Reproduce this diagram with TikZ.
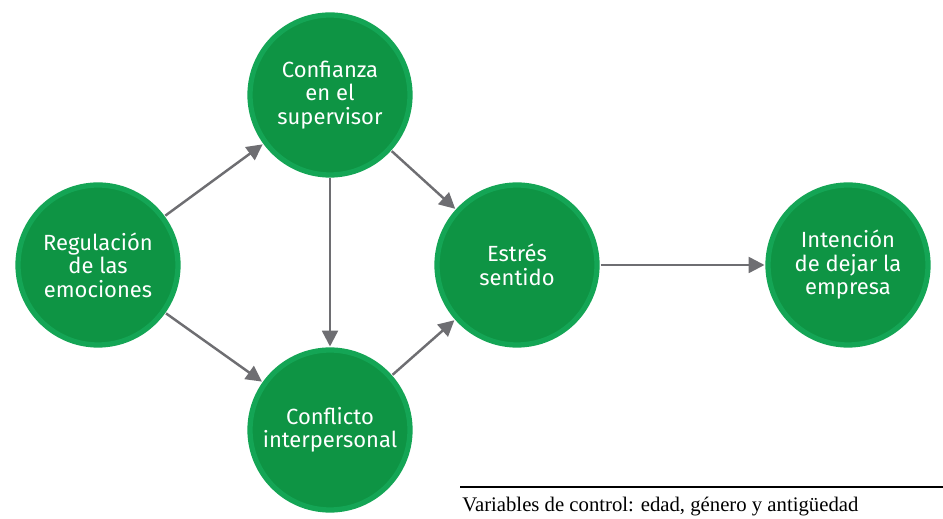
\documentclass[tikz,border=0pt]{standalone}
\usepackage{fontspec}
\setmainfont{Liberation Serif}
\newfontfamily\labelfont{Fira Sans}
\usetikzlibrary{arrows.meta}

\definecolor{blobgreen}{RGB}{14,148,68}
\definecolor{blobedge}{RGB}{20,165,85}
\definecolor{arrowgray}{RGB}{110,110,114}

\tikzset{
  factor/.style={circle, fill=blobgreen, draw=blobedge, line width=3pt,
    minimum size=3.2cm, inner sep=0pt, outer sep=2pt, text=white,
    align=center, font=\labelfont\fontsize{12.5}{13.4}\selectfont},
  link/.style={-{Triangle[length=9pt,width=9pt]}, arrowgray, line width=1.4pt},
}

\begin{document}
\begin{tikzpicture}[x=0.02cm, y=-0.02cm]
\useasboundingbox (0,0) rectangle (943,519);

\node (Reg) [factor] at (98,265) {Regulación\\de las\\emociones};
\node (Conf) [factor] at (330,95) {Confianza\\en el\\supervisor};
\node (Est) [factor] at (517,265) {Estrés\\sentido};
\node (Confl) [factor] at (330,430) {Conflicto\\interpersonal};
\node (Int) [factor] at (848,265) {Intención\\de dejar la\\empresa};

\draw[link] (Reg) -- (Conf);
\draw[link] (Reg) -- (Confl);
\draw[link] (Conf) -- (Confl);
\draw[link] (Conf) -- (Est);
\draw[link] (Confl) -- (Est);
\draw[link] (Est) -- (Int);

\coordinate (ruleL) at (460,487);
\coordinate (ruleR) at (943,487);
\draw[line width=1.2pt] (ruleL) -- (ruleR);
\node (ctrl) [anchor=base west, inner sep=0pt, font=\fontsize{11.8}{13}\selectfont]
    at (462,512) {Variables de control: edad, género y antigüedad};

\end{tikzpicture}
\end{document}
